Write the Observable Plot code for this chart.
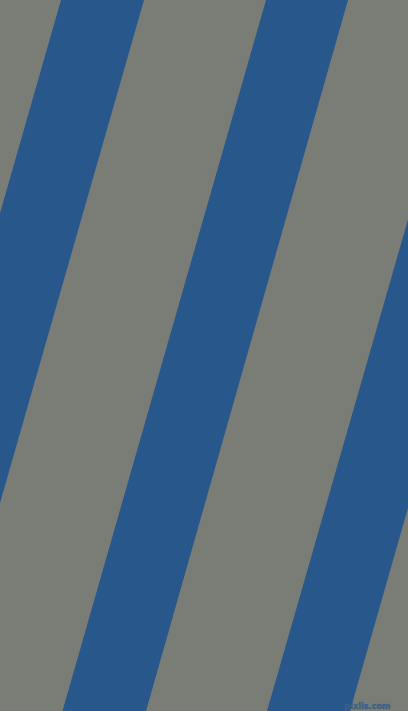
<!DOCTYPE html>
<html>
<head>
<meta charset="utf-8">
<script src="https://cdn.jsdelivr.net/npm/d3@7"></script>
<script src="https://cdn.jsdelivr.net/npm/@observablehq/plot@0.6"></script>
<style>
  html, body { margin: 0; padding: 0; overflow: hidden; background: #7a7d76; }
  svg { display: block; }
</style>
</head>
<body>
<div id="chart"></div>
<script>
// Stripe edges (x at top edge y=0 and at bottom edge y=711)
const stripes = ["A", "B", "C"];
const topLeft = [61, 266, 471];
const topRight = [144, 348, 553];
const bottomLeft = [-142.5, 62.5, 267];
const bottomRight = [-59.5, 146, 350];
const edgeY = [0, 711];
const watermark = ["pixlis.com"];

const rows = stripes.flatMap((s, i) => [
  {stripe: s, y: edgeY[0], x1: topLeft[i], x2: topRight[i]},
  {stripe: s, y: edgeY[1], x1: bottomLeft[i], x2: bottomRight[i]}
]);

const chart = Plot.plot({
  width: 408,
  height: 711,
  margin: 0,
  x: {domain: [0, 408], range: [0, 408], axis: null},
  y: {domain: [0, 711], range: [0, 711], axis: null},
  style: {background: "#7a7d76"},
  marks: [
    Plot.areaX(rows, {y: "y", x1: "x1", x2: "x2", z: "stripe", fill: "#27578b", clip: true}),
    Plot.text(watermark, {
      text: d => d, frameAnchor: "bottom-right", dx: -18, dy: -3,
      fill: "#3d618a", stroke: "#2e5580", strokeWidth: 0.3,
      fontSize: 9, fontWeight: "bold", fontFamily: "Liberation Sans Narrow, DejaVu Sans Condensed, sans-serif",
      textAnchor: "end"
    })
  ]
});
document.getElementById("chart").append(chart);
</script>
</body>
</html>
